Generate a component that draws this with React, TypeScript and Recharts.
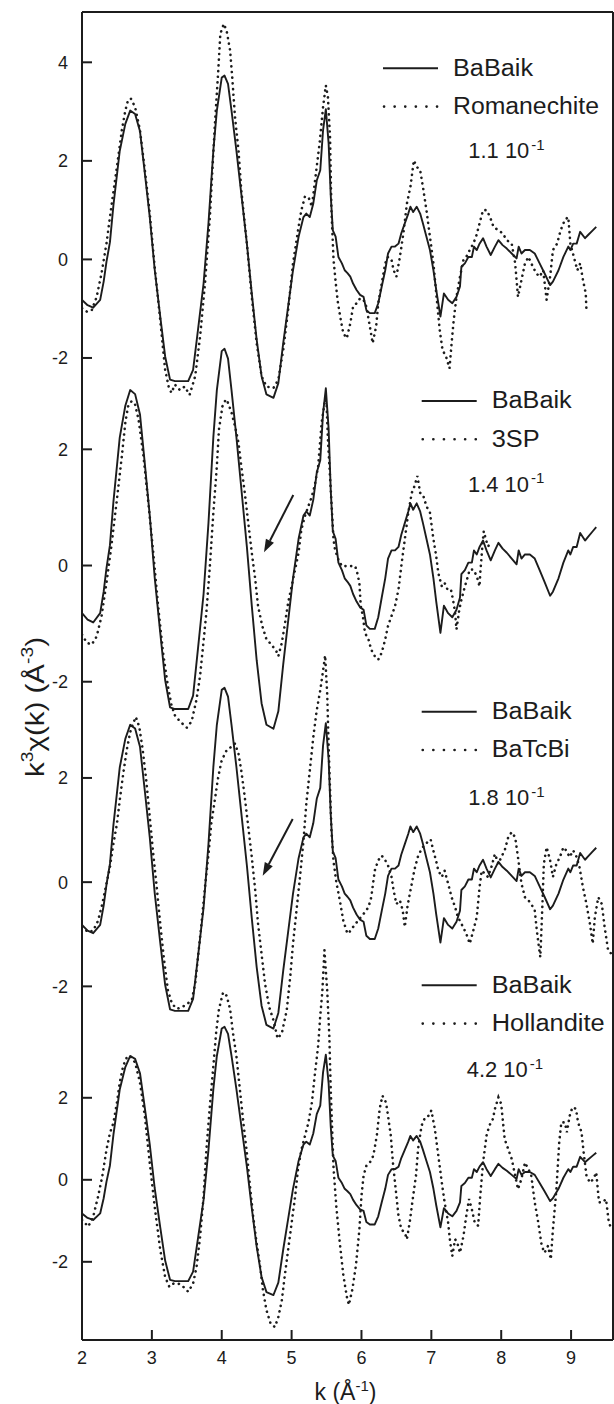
import React from 'react';
import { LineChart, Line, XAxis, YAxis } from 'recharts';

// ---- data (k in Å^-1, k^3 chi(k) in Å^-3) ----
const babaik: [number, number][] = [
  [2.00,-0.82],[2.08,-0.93],[2.16,-0.98],[2.26,-0.82],[2.31,-0.45],[2.35,-0.05],[2.40,0.35],[2.45,1.10],[2.54,2.20],[2.62,2.75],
  [2.69,3.02],[2.76,2.95],[2.83,2.60],[2.90,1.74],[2.97,0.86],[3.04,-0.20],[3.12,-1.16],[3.19,-1.97],[3.26,-2.44],[3.33,-2.47],
  [3.45,-2.47],[3.52,-2.47],[3.59,-2.24],[3.66,-1.43],[3.74,-0.49],[3.81,0.73],[3.88,2.21],[3.93,3.02],[4.00,3.69],[4.04,3.73],
  [4.09,3.56],[4.14,3.02],[4.21,2.21],[4.28,1.33],[4.36,0.32],[4.43,-0.69],[4.50,-1.63],[4.57,-2.37],[4.64,-2.74],[4.74,-2.81],
  [4.81,-2.51],[4.88,-1.70],[4.95,-0.96],[5.02,-0.22],[5.10,0.46],[5.17,0.86],[5.21,0.93],[5.26,0.86],[5.31,1.13],[5.36,1.60],
  [5.41,1.81],[5.45,2.62],[5.49,3.05],[5.53,2.35],[5.56,1.30],[5.59,0.59],[5.63,0.46],[5.67,0.05],[5.72,-0.08],[5.76,-0.22],
  [5.80,-0.28],[5.84,-0.35],[5.88,-0.49],[5.93,-0.62],[5.98,-0.72],[6.03,-0.76],[6.07,-1.03],[6.12,-1.09],[6.19,-1.09],[6.24,-0.89],
  [6.29,-0.55],[6.34,-0.22],[6.38,0.12],[6.43,0.26],[6.48,0.26],[6.53,0.32],[6.57,0.53],[6.62,0.73],[6.67,0.93],[6.70,1.07],
  [6.74,0.96],[6.79,1.07],[6.84,0.93],[6.88,0.73],[6.93,0.46],[6.98,0.19],[7.03,-0.22],[7.07,-0.62],[7.13,-1.16],[7.18,-0.69],
  [7.24,-0.82],[7.30,-0.89],[7.36,-0.76],[7.41,-0.55],[7.43,-0.15],[7.48,-0.08],[7.53,0.05],[7.58,0.05],[7.61,0.26],[7.65,0.19],
  [7.69,0.32],[7.74,0.43],[7.79,0.26],[7.85,0.09],[7.91,0.26],[7.96,0.39],[8.02,0.29],[8.08,0.22],[8.15,0.12],[8.22,0.02],
  [8.25,0.26],[8.29,0.12],[8.34,0.19],[8.41,0.19],[8.48,0.12],[8.55,-0.08],[8.62,-0.28],[8.70,-0.52],[8.74,-0.45],[8.82,-0.22],
  [8.89,0.05],[8.96,0.26],[8.99,0.19],[9.03,0.32],[9.08,0.32],[9.13,0.56],[9.20,0.43],[9.24,0.49],[9.31,0.59],[9.36,0.66],
];

const romanechite: [number, number][] = [
  [2.00,-0.99],[2.07,-1.06],[2.14,-1.03],[2.21,-0.76],[2.28,-0.28],[2.35,0.32],[2.42,1.07],[2.50,1.88],[2.57,2.62],[2.62,3.02],
  [2.66,3.24],[2.70,3.26],[2.76,3.09],[2.83,2.62],[2.90,1.81],[2.97,0.93],[3.04,-0.15],[3.12,-1.23],[3.19,-2.24],[3.24,-2.58],
  [3.28,-2.71],[3.33,-2.54],[3.40,-2.65],[3.47,-2.58],[3.54,-2.75],[3.62,-2.37],[3.69,-1.57],[3.76,-0.49],[3.83,0.86],[3.90,2.69],
  [3.95,3.83],[3.98,4.58],[4.03,4.78],[4.07,4.64],[4.12,4.24],[4.15,3.70],[4.19,2.89],[4.24,2.21],[4.28,1.40],[4.36,0.32],
  [4.43,-0.76],[4.50,-1.70],[4.57,-2.37],[4.64,-2.58],[4.74,-2.61],[4.81,-2.44],[4.88,-1.84],[4.95,-1.03],[5.02,-0.08],[5.10,0.66],
  [5.14,1.00],[5.19,1.27],[5.24,1.27],[5.29,1.07],[5.33,1.54],[5.40,2.35],[5.45,3.09],[5.49,3.53],[5.52,3.29],[5.55,2.48],
  [5.57,1.00],[5.60,0.00],[5.63,-0.45],[5.66,-0.85],[5.70,-1.20],[5.74,-1.50],[5.79,-1.60],[5.84,-1.30],[5.88,-0.96],[5.93,-0.89],
  [5.98,-0.79],[6.03,-0.82],[6.07,-0.96],[6.12,-1.36],[6.16,-1.70],[6.21,-1.36],[6.24,-0.89],[6.29,-0.49],[6.34,-0.08],[6.38,0.05],
  [6.43,-0.01],[6.46,-0.22],[6.50,-0.35],[6.55,0.05],[6.60,0.53],[6.65,1.13],[6.70,1.47],[6.75,2.01],[6.79,1.88],[6.84,1.81],
  [6.88,1.47],[6.93,1.00],[6.98,0.46],[7.03,-0.08],[7.07,-0.69],[7.12,-1.43],[7.16,-1.84],[7.21,-1.97],[7.26,-2.21],[7.29,-1.70],
  [7.32,-1.23],[7.36,-0.76],[7.41,-0.35],[7.46,-0.01],[7.50,0.05],[7.55,0.19],[7.60,0.32],[7.64,0.46],[7.69,0.73],[7.74,1.00],
  [7.79,1.00],[7.84,0.86],[7.89,0.66],[7.96,0.59],[8.02,0.53],[8.08,0.39],[8.15,0.32],[8.20,-0.08],[8.24,-0.76],[8.29,-0.42],
  [8.34,-0.08],[8.39,0.05],[8.43,-0.08],[8.50,-0.28],[8.55,-0.35],[8.60,-0.22],[8.65,-0.82],[8.70,-0.35],[8.74,0.19],[8.80,0.32],
  [8.85,0.59],[8.91,0.80],[8.96,0.86],[8.99,0.32],[9.04,0.05],[9.09,-0.22],[9.13,-0.08],[9.17,-0.42],[9.21,-0.69],[9.22,-1.03],
];

const sp3: [number, number][] = [
  [2.00,-1.19],[2.07,-1.33],[2.14,-1.36],[2.21,-1.22],[2.28,-0.87],[2.35,-0.30],[2.42,0.33],[2.50,1.14],[2.57,1.88],[2.62,2.46],
  [2.66,2.74],[2.71,2.83],[2.76,2.77],[2.81,2.51],[2.88,1.88],[2.95,1.08],[3.02,0.22],[3.09,-0.70],[3.16,-1.50],[3.23,-2.08],
  [3.28,-2.40],[3.33,-2.58],[3.40,-2.68],[3.50,-2.79],[3.57,-2.68],[3.64,-2.30],[3.69,-1.90],[3.78,-0.81],[3.83,-0.01],[3.88,0.91],
  [3.93,1.71],[3.96,2.34],[4.01,2.74],[4.06,2.86],[4.09,2.80],[4.14,2.63],[4.19,2.40],[4.24,2.11],[4.28,1.71],[4.33,1.25],
  [4.38,0.73],[4.43,0.22],[4.48,-0.24],[4.52,-0.70],[4.58,-1.04],[4.64,-1.27],[4.71,-1.36],[4.78,-1.47],[4.81,-1.56],[4.86,-1.33],
  [4.90,-1.04],[4.95,-0.64],[5.00,-0.36],[5.05,-0.07],[5.10,0.22],[5.14,0.62],[5.19,0.85],[5.24,1.02],[5.29,1.19],[5.33,1.37],
  [5.38,1.71],[5.43,2.46],[5.48,2.86],[5.50,2.80],[5.52,2.17],[5.56,1.31],[5.60,0.45],[5.62,0.28],[5.67,0.10],[5.72,-0.01],
  [5.79,-0.01],[5.85,-0.01],[5.91,-0.01],[5.94,-0.13],[5.97,-0.30],[5.99,-0.70],[6.02,-0.87],[6.05,-1.16],[6.10,-1.27],[6.14,-1.45],
  [6.19,-1.56],[6.24,-1.62],[6.29,-1.50],[6.34,-1.27],[6.38,-1.04],[6.43,-0.87],[6.48,-0.70],[6.53,-0.41],[6.57,-0.01],[6.62,0.45],
  [6.67,0.91],[6.72,1.25],[6.76,1.37],[6.80,1.54],[6.84,1.25],[6.88,1.22],[6.93,1.02],[6.98,0.91],[7.03,0.45],[7.07,0.16],
  [7.10,-0.13],[7.15,-0.36],[7.19,-0.30],[7.23,-0.41],[7.28,-0.41],[7.31,-0.59],[7.34,-0.81],[7.36,-1.10],[7.40,-0.76],[7.43,-0.59],
  [7.48,-0.36],[7.51,-0.24],[7.55,-0.07],[7.60,-0.07],[7.65,-0.18],[7.69,-0.36],[7.70,-0.13],[7.73,0.33],[7.75,0.59],[7.78,0.45],
  [7.81,0.33],[7.86,0.39],
];

const batcbi: [number, number][] = [
  [2.00,-0.86],[2.09,-0.96],[2.16,-0.93],[2.23,-0.74],[2.29,-0.42],[2.35,-0.03],[2.40,0.29],[2.45,0.74],[2.50,1.12],[2.54,1.57],
  [2.59,2.08],[2.64,2.53],[2.69,2.88],[2.73,3.04],[2.77,3.17],[2.82,2.98],[2.87,2.53],[2.92,1.95],[2.97,1.25],[3.02,0.54],
  [3.07,-0.10],[3.12,-0.80],[3.17,-1.44],[3.23,-2.08],[3.29,-2.34],[3.36,-2.43],[3.43,-2.40],[3.50,-2.34],[3.57,-2.27],[3.62,-1.95],
  [3.66,-1.44],[3.71,-0.80],[3.76,-0.10],[3.81,0.54],[3.85,1.12],[3.90,1.57],[3.95,2.02],[4.00,2.34],[4.07,2.53],[4.13,2.59],
  [4.19,2.66],[4.24,2.46],[4.28,2.14],[4.33,1.63],[4.38,1.06],[4.43,0.48],[4.48,-0.16],[4.52,-0.80],[4.57,-1.38],[4.62,-1.95],
  [4.68,-2.40],[4.74,-2.65],[4.80,-3.00],[4.86,-2.90],[4.93,-2.46],[4.98,-1.82],[5.02,-1.18],[5.07,-0.54],[5.12,0.10],[5.17,0.80],
  [5.21,1.50],[5.26,2.14],[5.31,2.78],[5.36,3.30],[5.41,3.68],[5.45,4.06],[5.48,4.35],[5.51,3.60],[5.53,2.60],[5.55,1.80],
  [5.57,1.00],[5.60,0.40],[5.64,0.00],[5.69,-0.35],[5.74,-0.74],[5.79,-0.95],[5.81,-0.99],[5.88,-0.86],[5.95,-0.74],[6.03,-0.61],
  [6.10,-0.48],[6.14,-0.29],[6.19,0.22],[6.24,0.42],[6.29,0.51],[6.34,0.42],[6.38,0.32],[6.43,0.10],[6.46,-0.16],[6.50,-0.42],
  [6.55,-0.35],[6.59,-0.54],[6.62,-0.86],[6.66,-0.45],[6.71,-0.10],[6.76,0.25],[6.81,0.50],[6.87,0.66],[6.93,0.75],[6.99,0.82],
  [7.03,0.60],[7.07,0.40],[7.10,0.22],[7.15,0.10],[7.19,0.22],[7.24,-0.03],[7.29,-0.29],[7.34,-0.48],[7.38,-0.67],[7.45,-0.85],
  [7.50,-0.99],[7.55,-1.18],[7.60,-0.93],[7.65,-0.67],[7.69,-0.10],[7.72,0.22],[7.77,0.16],[7.81,0.10],[7.86,0.29],[7.91,0.54],
  [7.96,0.35],[8.00,0.48],[8.05,0.61],[8.10,0.86],[8.15,0.96],[8.20,0.86],[8.24,0.48],[8.29,-0.03],[8.34,-0.29],[8.39,-0.35],
  [8.43,-0.42],[8.48,-0.54],[8.51,-0.93],[8.54,-1.25],[8.56,-1.44],[8.59,-0.42],[8.61,0.35],[8.65,0.67],[8.70,0.42],[8.74,0.10],
  [8.79,0.35],[8.84,0.48],[8.89,0.67],[8.93,0.61],[8.98,0.48],[9.03,0.61],[9.08,0.48],[9.12,0.29],[9.17,-0.10],[9.22,-0.42],
  [9.27,-0.80],[9.31,-1.18],[9.34,-0.67],[9.39,-0.29],[9.44,-0.42],[9.48,-0.86],[9.53,-1.31],[9.58,-1.38],
];

const hollandite: [number, number][] = [
  [2.00,-0.98],[2.09,-1.14],[2.16,-0.90],[2.23,-0.41],[2.29,0.08],[2.35,0.73],[2.40,1.14],[2.45,1.39],[2.50,1.88],[2.54,2.37],
  [2.59,2.78],[2.64,2.98],[2.69,3.02],[2.76,2.86],[2.83,2.37],[2.90,1.55],[2.97,0.41],[3.04,-0.65],[3.12,-1.71],[3.19,-2.37],
  [3.25,-2.61],[3.31,-2.53],[3.38,-2.53],[3.45,-2.61],[3.52,-2.73],[3.59,-2.53],[3.64,-2.12],[3.69,-1.39],[3.74,-0.41],[3.78,0.73],
  [3.83,1.80],[3.88,2.78],[3.92,3.59],[3.96,4.16],[4.02,4.57],[4.07,4.49],[4.12,4.16],[4.16,3.59],[4.21,3.02],[4.26,2.20],
  [4.31,1.39],[4.36,0.65],[4.40,-0.08],[4.45,-0.90],[4.50,-1.55],[4.55,-2.12],[4.59,-2.69],[4.64,-3.18],[4.70,-3.51],[4.76,-3.59],
  [4.81,-3.35],[4.86,-2.94],[4.90,-2.37],[4.95,-1.71],[5.00,-1.06],[5.05,-0.41],[5.09,0.24],[5.14,0.73],[5.19,1.06],[5.24,1.39],
  [5.29,1.88],[5.33,2.53],[5.38,3.27],[5.41,4.00],[5.44,4.60],[5.47,5.60],[5.51,4.60],[5.54,3.50],[5.56,2.20],[5.60,0.30],
  [5.64,-0.65],[5.69,-1.54],[5.74,-2.32],[5.79,-2.85],[5.82,-3.05],[5.87,-2.67],[5.92,-2.10],[5.97,-1.21],[6.00,-0.39],[6.03,0.10],
  [6.07,0.34],[6.12,0.42],[6.17,0.59],[6.22,1.08],[6.26,1.73],[6.30,2.05],[6.35,1.89],[6.38,1.56],[6.42,1.08],[6.45,0.42],
  [6.49,-0.23],[6.53,-0.88],[6.57,-1.21],[6.62,-1.29],[6.65,-1.45],[6.69,-1.04],[6.74,-0.39],[6.78,0.10],[6.81,0.75],[6.86,1.32],
  [6.91,1.52],[6.96,1.56],[7.00,1.69],[7.05,1.24],[7.10,0.59],[7.15,-0.07],[7.19,-0.55],[7.24,-1.04],[7.27,-1.53],[7.30,-1.86],
  [7.34,-1.45],[7.37,-1.53],[7.41,-1.78],[7.46,-1.37],[7.50,-0.88],[7.54,-0.47],[7.58,-0.72],[7.62,-1.04],[7.67,-1.12],[7.70,-0.39],
  [7.74,0.42],[7.79,1.08],[7.83,1.32],[7.88,1.48],[7.91,1.73],[7.96,2.01],[8.00,1.85],[8.05,0.99],[8.10,0.75],[8.15,0.51],
  [8.20,0.10],[8.24,-0.23],[8.29,0.02],[8.34,0.42],[8.39,0.26],[8.43,0.10],[8.48,-0.55],[8.53,-1.04],[8.58,-1.61],[8.62,-1.78],
  [8.67,-1.61],[8.71,-1.94],[8.74,-1.21],[8.79,-0.23],[8.83,0.91],[8.86,1.40],[8.91,1.40],[8.94,1.16],[8.98,1.56],[9.02,1.77],
  [9.07,1.73],[9.10,1.40],[9.15,1.16],[9.18,0.67],[9.22,0.10],[9.27,-0.07],[9.32,0.02],[9.36,0.18],[9.40,-0.55],[9.45,-0.55],
  [9.50,-0.47],[9.54,-1.04],[9.58,-1.21],
];

const xTicks = [2, 3, 4, 5, 6, 7, 8, 9];
const topPanelTicks = [-2, 0, 2, 4];
const panelTicks = [-2, 0, 2];
const refNames = ['Romanechite', '3SP', 'BaTcBi', 'Hollandite'];
const rFactors = ['1.1', '1.4', '1.8', '4.2'];

// ---- layout ----
const W = 614;
const H = 1404;
const FONT = "'Liberation Sans', Arial, Helvetica, sans-serif";
const INK = '#1c1c1c';

const rows = (pts: [number, number][]) => pts.map(([k, v]) => ({ k, v }));
const baRows = rows(babaik);

const panels = [
  { id: 'p1', domain: [-21.93, 5.021], ticks: topPanelTicks, ref: rows(romanechite), name: refNames[0], r: rFactors[0],
    legX: 383, legY: 68.3, nameW: 146, rX: 468.3, rY: 158.3 },
  { id: 'p2', domain: [-13.33, 9.527], ticks: panelTicks, ref: rows(sp3), name: refNames[1], r: rFactors[1],
    legX: 421.7, legY: 401, nameW: 48, rX: 468, rY: 491.7 },
  { id: 'p3', domain: [-8.787, 16.70], ticks: panelTicks, ref: rows(batcbi), name: refNames[2], r: rFactors[2],
    legX: 421.7, legY: 711.7, nameW: 78, rX: 468.3, rY: 805 },
  { id: 'p4', domain: [-3.907, 28.48], ticks: panelTicks, ref: rows(hollandite), name: refNames[3], r: rFactors[3],
    legX: 421.7, legY: 985.3, nameW: 113, rX: 466.7, rY: 1077.3 },
];

const tickStyle = { fill: INK, fontSize: 18, fontFamily: FONT };
const axisStroke = { stroke: INK, strokeWidth: 2 };

type Panel = typeof panels[number];

// One full-size chart per panel, overlaid so that all share the same plot rectangle
const PanelChart = ({ p, frame }: { p: Panel; frame: boolean }) => (
  <div style={{ position: 'absolute', left: 0, top: 0 }}>
    <LineChart width={W} height={H} margin={{ top: 10, right: 0, bottom: 14, left: 22 }}>
      <XAxis
        xAxisId="b" dataKey="k" type="number" domain={[2, 9.6]} ticks={xTicks} interval={0}
        allowDataOverflow height={50} tickSize={-10} tickMargin={21}
        axisLine={frame ? axisStroke : false} tickLine={frame ? axisStroke : false} tick={frame ? tickStyle : false}
      />
      <XAxis
        xAxisId="t" orientation="top" dataKey="k" type="number" domain={[2, 9.6]} height={2}
        tick={false} tickLine={false} axisLine={frame ? axisStroke : false}
      />
      <YAxis
        yAxisId="l" type="number" domain={p.domain} ticks={p.ticks} interval={0}
        allowDataOverflow width={60} tickSize={-10} tickMargin={24}
        axisLine={frame ? axisStroke : false} tickLine={axisStroke} tick={tickStyle}
      />
      <YAxis
        yAxisId="r" orientation="right" type="number" domain={[0, 1]} width={1}
        tick={false} tickLine={false} axisLine={frame ? axisStroke : false}
      />
      <Line
        xAxisId="b" yAxisId="l" data={p.ref} dataKey="v" type="linear"
        stroke={INK} strokeWidth={2.6} strokeDasharray="0.1 5.6" strokeLinecap="round"
        dot={false} activeDot={false} isAnimationActive={false}
      />
      <Line
        xAxisId="b" yAxisId="l" data={baRows} dataKey="v" type="linear"
        stroke={INK} strokeWidth={1.9} strokeLinejoin="round"
        dot={false} activeDot={false} isAnimationActive={false}
      />
    </LineChart>
  </div>
);

const Arrow = ({ x1, y1, x2, y2 }: { x1: number; y1: number; x2: number; y2: number }) => {
  const a = Math.atan2(y2 - y1, x2 - x1);
  const L = 13, Wd = 4.5;
  const bx = x2 - L * Math.cos(a), by = y2 - L * Math.sin(a);
  const px = -Math.sin(a) * Wd, py = Math.cos(a) * Wd;
  return (
    <g>
      <line x1={x1} y1={y1} x2={bx} y2={by} stroke={INK} strokeWidth={2} />
      <path d={`M${x2},${y2} L${bx + px},${by + py} L${bx - px},${by - py} Z`} fill={INK} />
    </g>
  );
};

export default function App() {
  return (
    <div style={{ position: 'absolute', left: 0, top: 0, width: W, height: H, background: '#fff' }}>
      {panels.map((p, i) => (
        <PanelChart key={p.id} p={p} frame={i === 0} />
      ))}
      <svg width={W} height={H} style={{ position: 'absolute', left: 0, top: 0, pointerEvents: 'none' }}
        fontFamily={FONT} fill={INK}>
        {panels.map((p) => (
          <g key={`leg-${p.id}`}>
            <line x1={p.legX} y1={p.legY} x2={p.legX + 55} y2={p.legY} stroke={INK} strokeWidth={2} />
            <text x={p.legX + 70} y={p.legY + 7.4} fontSize={23} textLength={80} lengthAdjust="spacingAndGlyphs">BaBaik</text>
            <line x1={p.legX + 1} y1={p.legY + 38.3} x2={p.legX + 55} y2={p.legY + 38.3}
              stroke={INK} strokeWidth={2.6} strokeDasharray="0.1 10.5" strokeLinecap="round" />
            <text x={p.legX + 70} y={p.legY + 45.7} fontSize={23} textLength={p.nameW} lengthAdjust="spacingAndGlyphs">{p.name}</text>
            <text x={p.rX} y={p.rY} fontSize={22} textLength={61} lengthAdjust="spacingAndGlyphs">{`${p.r} 10`}</text>
            <text x={p.rX + 63} y={p.rY - 8.5} fontSize={15}>-1</text>
          </g>
        ))}
        <Arrow x1={293.3} y1={495} x2={264} y2={552.3} />
        <Arrow x1={292.7} y1={819} x2={262.7} y2={875.7} />
        <text x={345.5} y={1400} fontSize={23} textAnchor="middle">
          k (Å<tspan fontSize={15} dy={-9}>-1</tspan><tspan dy={9}>)</tspan>
        </text>
        <text transform="translate(44,777) rotate(-90)" x={0} y={0} fontSize={26} textLength={140} lengthAdjust="spacingAndGlyphs">
          k<tspan fontSize={17} dy={-11}>3</tspan><tspan dy={11}>χ(k) (Å</tspan><tspan fontSize={17} dy={-11}>-3</tspan><tspan dy={11}>)</tspan>
        </text>
      </svg>
    </div>
  );
}
